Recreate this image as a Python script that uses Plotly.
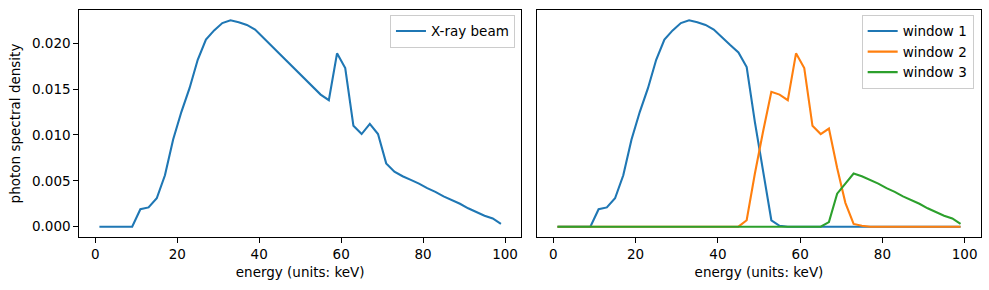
import plotly.graph_objects as go

energy = list(range(1, 100, 2))

beam = [0, 0, 0, 0, 0, 0.0019, 0.0021, 0.0031, 0.0056, 0.0095,
        0.0125, 0.0151, 0.0182, 0.0204, 0.0214, 0.0222, 0.0225, 0.0223, 0.0220, 0.0215,
        0.0206, 0.0198, 0.0189, 0.0179, 0.0170, 0.0161, 0.0152, 0.0144, 0.0138, 0.0189,
        0.0173, 0.0110, 0.0101, 0.0112, 0.0101, 0.0069, 0.0060, 0.0055, 0.0051, 0.0047,
        0.0042, 0.0038, 0.0033, 0.0029, 0.0025, 0.0020, 0.0016, 0.0012, 0.0009, 0.0003]

window1 = [0, 0, 0, 0, 0, 0.0019, 0.0021, 0.0031, 0.0056, 0.0095,
           0.0125, 0.0151, 0.0182, 0.0204, 0.0214, 0.0222, 0.0225, 0.0223, 0.0220, 0.0215,
           0.0206, 0.0198, 0.0190, 0.0174, 0.0114, 0.0058, 0.0007, 0.0001, 0, 0,
           0, 0, 0, 0, 0, 0, 0, 0, 0, 0,
           0, 0, 0, 0, 0, 0, 0, 0, 0, 0]

window2 = [0, 0, 0, 0, 0, 0, 0, 0, 0, 0,
           0, 0, 0, 0, 0, 0, 0, 0, 0, 0,
           0, 0, 0, 0.0007, 0.0058, 0.0104, 0.0147, 0.0144, 0.0138, 0.0189,
           0.0173, 0.0110, 0.0101, 0.0107, 0.0064, 0.0026, 0.0003, 0.0001, 0, 0,
           0, 0, 0, 0, 0, 0, 0, 0, 0, 0]

window3 = [0, 0, 0, 0, 0, 0, 0, 0, 0, 0,
           0, 0, 0, 0, 0, 0, 0, 0, 0, 0,
           0, 0, 0, 0, 0, 0, 0, 0, 0, 0,
           0, 0, 0, 0.0005, 0.0036, 0.0047, 0.0058, 0.0055, 0.0051, 0.0047,
           0.0042, 0.0038, 0.0033, 0.0029, 0.0025, 0.0020, 0.0016, 0.0012, 0.0009, 0.0003]

x_ticks = [0, 20, 40, 60, 80, 100]
y_ticks = [0.000, 0.005, 0.010, 0.015, 0.020]

C1, C2, C3 = "#1f77b4", "#ff7f0e", "#2ca02c"
FONT = "DejaVu Sans"
FS = 13.5

fig = go.Figure()
fig.add_trace(go.Scatter(x=energy, y=beam, mode="lines", name="X-ray beam",
                         line=dict(color=C1, width=2.1), xaxis="x", yaxis="y", legend="legend"))
fig.add_trace(go.Scatter(x=energy, y=window1, mode="lines", name="window 1",
                         line=dict(color=C1, width=2.1), xaxis="x2", yaxis="y2", legend="legend2"))
fig.add_trace(go.Scatter(x=energy, y=window2, mode="lines", name="window 2",
                         line=dict(color=C2, width=2.1), xaxis="x2", yaxis="y2", legend="legend2"))
fig.add_trace(go.Scatter(x=energy, y=window3, mode="lines", name="window 3",
                         line=dict(color=C3, width=2.1), xaxis="x2", yaxis="y2", legend="legend2"))

xr = [-3.9, 103.9]
yr = [-0.001125, 0.023625]

common_x = dict(range=xr, tickvals=x_ticks, showgrid=False, zeroline=False, automargin=False,
                showline=True, linecolor="black", linewidth=1.1, mirror=True,
                ticks="outside", ticklen=5, tickwidth=1.1, tickcolor="black",
                tickfont=dict(family=FONT, size=FS, color="black"),
                title=dict(text="energy (units: keV)", standoff=6,
                           font=dict(family=FONT, size=FS, color="black")))

fig.update_layout(
    width=989, height=290,
    margin=dict(l=0, r=0, t=0, b=0),
    paper_bgcolor="white", plot_bgcolor="white",
    font=dict(family=FONT, size=FS, color="black"),
    xaxis=dict(domain=[0.0802, 0.5268], anchor="y", **common_x),
    xaxis2=dict(domain=[0.5433, 0.9916], anchor="y2", **common_x),
    yaxis=dict(domain=[0.1828, 0.9655], anchor="x", range=yr, tickvals=y_ticks,
               tickformat=".3f", showgrid=False, zeroline=False, automargin=False,
               showline=True, linecolor="black", linewidth=1.1, mirror=True,
               ticks="outside", ticklen=5, tickwidth=1.1, tickcolor="black",
               tickfont=dict(family=FONT, size=FS, color="black"),
               title=dict(text="photon spectral density", standoff=8,
                          font=dict(family=FONT, size=FS, color="black"))),
    yaxis2=dict(domain=[0.1828, 0.9655], anchor="x2", range=yr, automargin=False,
                showticklabels=False, ticks="", showgrid=False, zeroline=False,
                showline=True, linecolor="black", linewidth=1.1, mirror=True),
    legend=dict(x=0.5207, y=0.949, xanchor="right", yanchor="top",
                bgcolor="rgba(255,255,255,0.8)", bordercolor="#cccccc", borderwidth=1,
                font=dict(family=FONT, size=FS, color="black"), itemwidth=30),
    legend2=dict(x=0.9845, y=0.949, xanchor="right", yanchor="top",
                 bgcolor="rgba(255,255,255,0.8)", bordercolor="#cccccc", borderwidth=1,
                 font=dict(family=FONT, size=FS, color="black"), itemwidth=30,
                 tracegroupgap=0),
    showlegend=True,
)

fig.write_html("out.html", config={"displayModeBar": False},
               post_script="document.body.style.margin='0';")
